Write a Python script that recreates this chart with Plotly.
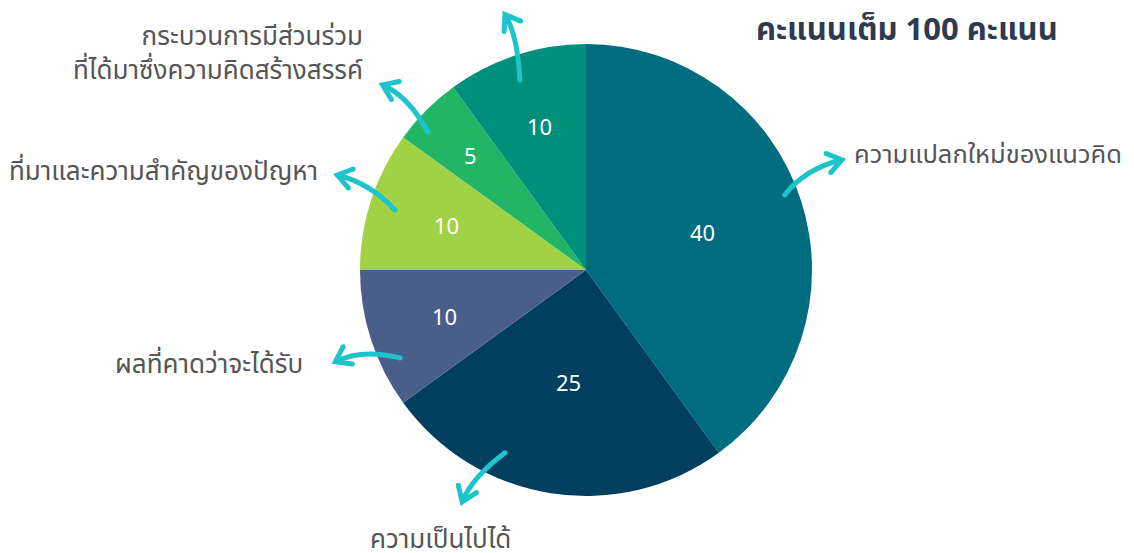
import math
import plotly.graph_objects as go

# ---- data ----
categories = [
    "ความแปลกใหม่ของแนวคิด",
    "ความเป็นไปได้",
    "ผลที่คาดว่าจะได้รับ",
    "ที่มาและความสำคัญของปัญหา",
    "กระบวนการมีส่วนร่วม<br>ที่ได้มาซึ่งความคิดสร้างสรรค์",
    "",
]
values = [40, 25, 10, 10, 5, 10]
title_text = "คะแนนเต็ม 100 คะแนน"

# ---- style ----
colors = ["#006C7F", "#003F5F", "#4A5E8A", "#A1D246", "#22B566", "#008F7A"]
W, H = 1134, 553
CX, CY, R = 586, 270, 226          # pie centre/radius in window pixels
PAGE_OFF = 8                        # default body margin of the html page
ARROW_COLOR = "#1EC3CC"
LABEL_COLOR = "#555555"
FONT = "Noto Sans Thai, Noto Sans, sans-serif"

# value label radius fraction per slice
value_r = [0.54, 0.50, 0.66, 0.65, 0.72, 0.67]

# arrow geometry per slice, relative to slice mid angle:
# (tail dtheta, tail r, ctrl dtheta, ctrl r, tip dtheta, tip r)
arrow_geom = [
    (-2.7, 0.94, -6.8, 1.067, -5.3, 1.233),
    (14.9, 0.885, 19.8, 1.048, 19.1, 1.163),
    (-7.3, 0.91, -1.2, 1.053, -2.1, 1.181),
    (-0.6, 0.886, 3.9, 1.026, 2.9, 1.178),
    (-3.9, 0.929, -0.6, 1.098, -2.7, 1.217),
    (-1.2, 0.889, 1.8, 1.085, 0.4, 1.186),
]
# label offset from arrow tip (px) and anchor
label_off = [
    (10, -5, "left"),
    (-22, 38, "center"),
    (-30, 3, "right"),
    (-17, -3, "right"),
    (-18, -31, "right"),
    (0, 0, "center"),
]
label_size = [25.5, 26, 26, 26, 26, 26]


def polar_px(theta_deg, rfrac):
    a = math.radians(theta_deg)
    return CX + R * rfrac * math.sin(a), CY - R * rfrac * math.cos(a)


def to_paper(px, py):
    return (px - PAGE_OFF) / W, 1 - (py - PAGE_OFF) / H


dcx, dcy = CX - PAGE_OFF, CY - PAGE_OFF
fig = go.Figure(
    go.Pie(
        labels=[c if c else " " for c in categories],
        values=values,
        sort=False,
        direction="clockwise",
        rotation=0,
        marker=dict(colors=colors, line=dict(width=0)),
        textinfo="none",
        showlegend=False,
        hoverinfo="label+value",
        domain=dict(x=[(dcx - R) / W, (dcx + R) / W],
                    y=[(H - dcy - R) / H, (H - dcy + R) / H]),
    )
)

shapes = []
annotations = []


def cap(pt, r=2.5):
    x0, y0 = to_paper(pt[0] - r, pt[1] + r)
    x1, y1 = to_paper(pt[0] + r, pt[1] - r)
    return dict(type="circle", xref="paper", yref="paper", x0=x0, y0=y0, x1=x1, y1=y1,
                fillcolor=ARROW_COLOR, line=dict(width=0))


total = sum(values)
cum = 0
for i, v in enumerate(values):
    mid = (cum + v / 2) / total * 360
    cum += v
    # value label
    vx, vy = to_paper(*polar_px(mid, value_r[i]))
    annotations.append(dict(
        x=vx, y=vy, xref="paper", yref="paper", text=str(v), showarrow=False,
        xanchor="center", yanchor="middle",
        font=dict(size=22, color="white", family="Noto Sans, sans-serif"),
    ))
    # curved arrow
    tdt, tr, cdt, cr, pdt, pr = arrow_geom[i]
    tail = polar_px(mid + tdt, tr)
    ctrl = polar_px(mid + cdt, cr)
    tip = polar_px(mid + pdt, pr)
    p0, p1, p2 = to_paper(*tail), to_paper(*ctrl), to_paper(*tip)
    shapes.append(dict(
        type="path", xref="paper", yref="paper",
        path=f"M {p0[0]},{p0[1]} Q {p1[0]},{p1[1]} {p2[0]},{p2[1]}",
        line=dict(color=ARROW_COLOR, width=5),
    ))
    dx, dy = tip[0] - ctrl[0], tip[1] - ctrl[1]
    ang = math.atan2(dy, dx)
    L = 17
    arms = []
    for s in (1, -1):
        b = ang + math.pi + s * math.radians(35)
        arms.append((tip[0] + L * math.cos(b), tip[1] + L * math.sin(b)))
    a1, a2 = to_paper(*arms[0]), to_paper(*arms[1])
    shapes.append(dict(
        type="path", xref="paper", yref="paper",
        path=f"M {a1[0]},{a1[1]} L {p2[0]},{p2[1]} L {a2[0]},{a2[1]}",
        line=dict(color=ARROW_COLOR, width=5),
    ))
    shapes += [cap(tail), cap(arms[0]), cap(arms[1])]
    if categories[i]:
        ox, oy, anchor = label_off[i]
        lx, ly = to_paper(tip[0] + ox, tip[1] + oy)
        annotations.append(dict(
            x=lx, y=ly, xref="paper", yref="paper", text=categories[i],
            showarrow=False, xanchor=anchor, yanchor="middle",
            align=anchor,
            font=dict(size=label_size[i], color=LABEL_COLOR, family=FONT),
        ))

tx, ty = to_paper(907, 30)
annotations.append(dict(
    x=tx, y=ty, xref="paper", yref="paper", text=f"<b>{title_text}</b>",
    showarrow=False, xanchor="center", yanchor="middle",
    font=dict(size=31, color="#2E3A4F", family=FONT),
))

fig.update_layout(
    width=W, height=H,
    margin=dict(l=0, r=0, t=0, b=0),
    paper_bgcolor="white", plot_bgcolor="white",
    shapes=shapes, annotations=annotations,
)
fig.write_html("out.html")
